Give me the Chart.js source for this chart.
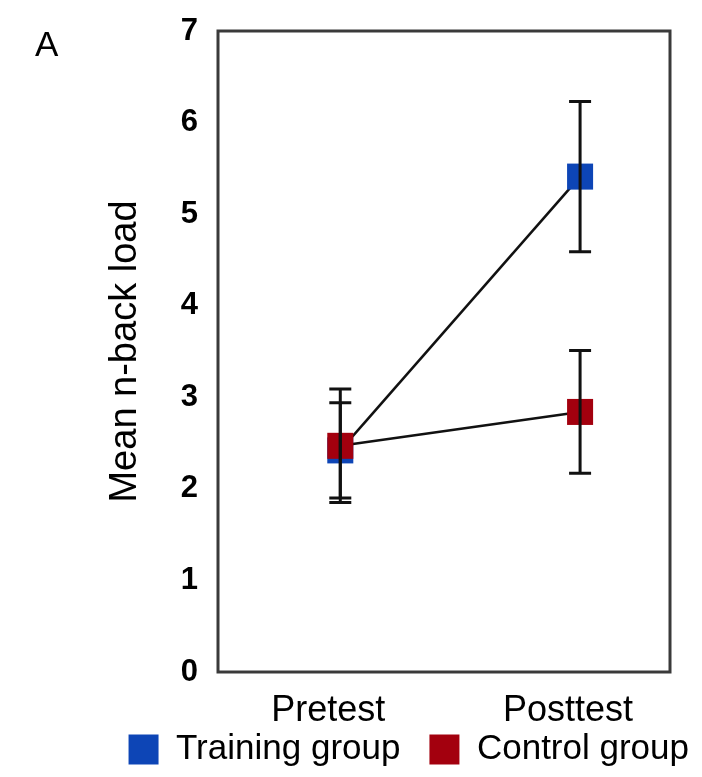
<!DOCTYPE html>
<html><head><meta charset="utf-8">
<script src="https://cdn.jsdelivr.net/npm/chart.js@4/dist/chart.umd.min.js"></script>
<style>
html,body{margin:0;padding:0;background:#fff;}
#wrap{position:relative;width:702px;height:777px;}
#panel{position:absolute;left:35px;top:24px;font:35px "Liberation Sans",Arial,sans-serif;color:#000;}
</style>
</head><body>
<div id="wrap"><canvas id="c" width="702" height="777"></canvas><div id="panel">A</div></div>
<script>
const categories = ['Pretest', 'Posttest'];
const seriesNames = ['Training group', 'Control group'];
const trainingMeans = [2.42, 5.41];
const trainingErrors = [0.52, 0.82];
const controlMeans = [2.47, 2.84];
const controlErrors = [0.62, 0.67];
const yTicks = [0, 1, 2, 3, 4, 5, 6, 7];

const FONT = '"Liberation Sans", Arial, sans-serif';
const colors = ['#0d45b6', '#a3000e'];

const errorBars = {
  id: 'errorBars',
  afterDatasetsDraw(chart) {
    const ctx = chart.ctx, ys = chart.scales.y;
    const errs = [trainingErrors, controlErrors];
    chart.data.datasets.forEach((ds, i) => {
      const meta = chart.getDatasetMeta(i);
      meta.data.forEach((pt, j) => {
        const v = ds.data[j].y, e = errs[i][j];
        const top = ys.getPixelForValue(v + e), bot = ys.getPixelForValue(v - e);
        ctx.save();
        ctx.strokeStyle = '#111';
        ctx.lineWidth = 3;
        ctx.beginPath();
        ctx.moveTo(pt.x, top); ctx.lineTo(pt.x, bot);
        ctx.moveTo(pt.x - 11, top); ctx.lineTo(pt.x + 11, top);
        ctx.moveTo(pt.x - 11, bot); ctx.lineTo(pt.x + 11, bot);
        ctx.stroke();
        ctx.restore();
      });
    });
  }
};
const frame = {
  id: 'frame',
  afterDatasetsDraw(chart) {
    const {left, top, right, bottom} = chart.chartArea;
    const ctx = chart.ctx;
    ctx.save();
    ctx.strokeStyle = '#3a3a3a';
    ctx.lineWidth = 3;
    ctx.strokeRect(left, top, right - left, bottom - top);
    ctx.restore();
  }
};

const mk = (means) => means.map((m, i) => ({x: i + 1, y: m}));

new Chart(document.getElementById('c'), {
  type: 'line',
  data: {
    datasets: [
      {label: seriesNames[0], order: 2, data: mk(trainingMeans), borderColor: '#111', borderWidth: 2.5,
       backgroundColor: colors[0], pointStyle: 'rect', pointRadius: 18.4, pointBackgroundColor: colors[0],
       pointBorderColor: colors[0], pointBorderWidth: 0, pointHoverRadius: 18.4},
      {label: seriesNames[1], order: 1, data: mk(controlMeans), borderColor: '#111', borderWidth: 2.5,
       backgroundColor: colors[1], pointStyle: 'rect', pointRadius: 18.4, pointBackgroundColor: colors[1],
       pointBorderColor: colors[1], pointBorderWidth: 0, pointHoverRadius: 18.4}
    ]
  },
  options: {
    responsive: false,
    animation: false,
    devicePixelRatio: 1,
    layout: {padding: {top: 31, right: -16, bottom: 0, left: 0}},
    scales: {
      x: {
        type: 'linear', min: 0.49, max: 2.375,
        afterBuildTicks(s) { s.ticks = categories.map((c, i) => ({value: i + 1})); },
        ticks: {callback: (v) => categories[v - 1], font: {family: FONT, size: 36}, color: '#000',
                mirror: true, padding: -61, labelOffset: -12, maxRotation: 0, autoSkip: false},
        grid: {display: false, drawTicks: false},
        border: {display: false},
        afterFit(s) { s.height = 31; }
      },
      y: {
        min: 0, max: 7,
        afterBuildTicks(s) { s.ticks = yTicks.map(v => ({value: v})); },
        ticks: {font: {family: FONT, size: 31, weight: 'bold'}, color: '#000', padding: 0},
        grid: {display: true, drawOnChartArea: false, drawTicks: true, tickLength: 20, tickColor: 'rgba(0,0,0,0)'},
        border: {display: false},
        title: {display: true, text: 'Mean n-back load', color: '#000', font: {family: FONT, size: 38}, padding: {top: 103, bottom: 0}},
        afterFit(s) { s.width = 218; }
      },
      y2: {
        position: 'right', display: true,
        ticks: {display: false}, grid: {display: false, drawTicks: false}, border: {display: false},
        afterFit(s) { s.width = 48; }
      }
    },
    plugins: {
      legend: {
        position: 'bottom', align: 'end',
        labels: {
          boxWidth: 30, boxHeight: 30, padding: 29, color: '#000',
          font: {family: FONT, size: 35},
          generateLabels(chart) {
            return chart.data.datasets.map((ds, i) => ({text: ds.label, fillStyle: colors[i], strokeStyle: colors[i], lineWidth: 0, datasetIndex: i, fontColor: '#000'}));
          }
        }
      },
      tooltip: {enabled: false}
    }
  },
  plugins: [errorBars, frame]
});
</script>
</body></html>
